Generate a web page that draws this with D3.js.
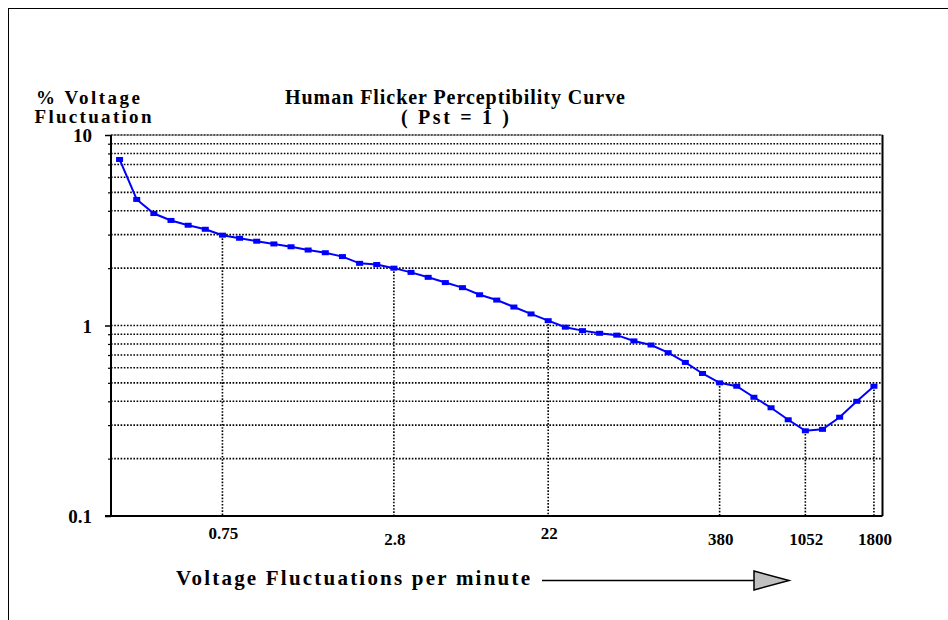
<!DOCTYPE html>
<html>
<head>
<meta charset="utf-8">
<script src="https://cdn.jsdelivr.net/npm/d3@7"></script>
<style>
  body { margin: 0; background: #fff; }
  text { font-family: "Liberation Serif", "Times New Roman", Times, serif; font-weight: bold; fill: #000; }
</style>
</head>
<body>
<div id="chart"></div>
<script>
// % voltage fluctuation for each point of the Pst = 1 curve (equally spaced categories)
const fluctuation = [
  7.44, 4.59, 3.87, 3.56, 3.36, 3.20, 2.98, 2.87, 2.77, 2.68,
  2.59, 2.49, 2.41, 2.30, 2.12, 2.09, 2.00, 1.90, 1.79, 1.68,
  1.58, 1.45, 1.36, 1.25, 1.15, 1.06, 0.98, 0.94, 0.91, 0.89,
  0.83, 0.79, 0.72, 0.64, 0.56, 0.50, 0.48, 0.42, 0.37, 0.32,
  0.28, 0.285, 0.33, 0.40, 0.48
];

// labelled categories (fluctuations per minute) and where they sit in the series
const tickIndex = [6, 16, 25, 35, 40, 44];
const tickLabels = ["0.75", "2.8", "22", "380", "1052", "1800"];
const tickLow = [false, true, false, true, true, true];

const yTicks = [0.1, 1, 10];
const yGrid = [0.2, 0.3, 0.4, 0.5, 0.6, 0.7, 0.8, 0.9, 1, 2, 3, 4, 5, 6, 7, 8, 9, 10];

const W = 948, H = 620;
const plot = { left: 111, right: 882.5, top: 135, bottom: 516 };

const svg = d3.select("#chart")
  .append("svg")
  .attr("width", W)
  .attr("height", H);

// outer frame (only left and top edges fall inside the picture)
svg.append("rect")
  .attr("x", 8.5).attr("y", 8.5)
  .attr("width", 1000).attr("height", 700)
  .attr("fill", "none")
  .attr("stroke", "#000")
  .attr("stroke-width", 1);

const x = d3.scalePoint()
  .domain(d3.range(fluctuation.length))
  .range([plot.left, plot.right])
  .padding(0.5);

const y = d3.scaleLog()
  .domain([0.1, 10])
  .range([plot.bottom, plot.top]);

// horizontal dotted grid
svg.append("g")
  .selectAll("line")
  .data(yGrid)
  .join("line")
  .attr("x1", plot.left)
  .attr("x2", plot.right)
  .attr("y1", d => y(d))
  .attr("y2", d => y(d))
  .attr("stroke", "#000")
  .attr("stroke-width", 1.6)
  .attr("stroke-dasharray", "1.6,1.6");

// plot frame top and right
svg.append("line")
  .attr("x1", plot.left).attr("x2", plot.right)
  .attr("y1", plot.top).attr("y2", plot.top)
  .attr("stroke", "#666").attr("stroke-width", 1);
svg.append("line")
  .attr("x1", plot.right).attr("x2", plot.right)
  .attr("y1", plot.top).attr("y2", plot.bottom)
  .attr("stroke", "#000").attr("stroke-width", 2);

// drop lines from labelled points to the axis
svg.append("g")
  .selectAll("line")
  .data(tickIndex)
  .join("line")
  .attr("x1", d => x(d))
  .attr("x2", d => x(d))
  .attr("y1", d => y(fluctuation[d]))
  .attr("y2", plot.bottom)
  .attr("stroke", "#000")
  .attr("stroke-width", 1.6)
  .attr("stroke-dasharray", "1.6,1.6");

// y axis with major and minor ticks
const yAxis = svg.append("g")
  .attr("transform", `translate(${plot.left},0)`)
  .call(d3.axisLeft(y).tickValues(yTicks).tickSize(6).tickFormat(""));
yAxis.select(".domain").attr("stroke-width", 2).attr("d", `M0,${plot.top}V${plot.bottom}`);
yAxis.selectAll(".tick line").attr("stroke-width", 1.5);
svg.append("g")
  .attr("transform", `translate(${plot.left},0)`)
  .call(d3.axisLeft(y).tickValues(yGrid.filter(d => !yTicks.includes(d))).tickSize(3).tickFormat(""))
  .call(g => g.select(".domain").remove())
  .selectAll(".tick line").attr("stroke-width", 1.2);

svg.append("g")
  .selectAll("text")
  .data(yTicks)
  .join("text")
  .attr("x", 92)
  .attr("y", d => y(d) + 7)
  .attr("text-anchor", "end")
  .style("font-size", "19px")
  .text(d => d);

// x axis line
svg.append("line")
  .attr("x1", plot.left - 6).attr("x2", plot.right)
  .attr("y1", plot.bottom).attr("y2", plot.bottom)
  .attr("stroke", "#000").attr("stroke-width", 2);

svg.append("g")
  .selectAll("text")
  .data(tickIndex)
  .join("text")
  .attr("x", d => x(d) + 1)
  .attr("y", (d, i) => tickLow[i] ? 545 : 539)
  .attr("text-anchor", "middle")
  .style("font-size", "17px")
  .text((d, i) => tickLabels[i]);

// the curve
const line = d3.line()
  .x((d, i) => x(i))
  .y(d => y(d));

svg.append("path")
  .datum(fluctuation)
  .attr("fill", "none")
  .attr("stroke", "#0000ff")
  .attr("stroke-width", 2)
  .attr("d", line);

svg.append("g")
  .selectAll("rect")
  .data(fluctuation)
  .join("rect")
  .attr("x", (d, i) => x(i) - 3.5)
  .attr("y", d => y(d) - 2.5)
  .attr("width", 7)
  .attr("height", 5)
  .attr("fill", "#0000ff");

// titles
svg.append("text")
  .attr("x", 455).attr("y", 104)
  .attr("text-anchor", "middle")
  .attr("textLength", 340).attr("lengthAdjust", "spacing")
  .style("font-size", "20px")
  .text("Human Flicker Perceptibility Curve");
svg.append("text")
  .attr("x", 455).attr("y", 124)
  .attr("text-anchor", "middle")
  .attr("textLength", 108).attr("lengthAdjust", "spacing")
  .style("font-size", "20px")
  .text("( Pst = 1 )");

svg.append("text")
  .attr("x", 88).attr("y", 104)
  .attr("text-anchor", "middle")
  .attr("textLength", 104).attr("lengthAdjust", "spacing")
  .style("font-size", "19px")
  .text("% Voltage");
svg.append("text")
  .attr("x", 93).attr("y", 123)
  .attr("text-anchor", "middle")
  .attr("textLength", 117).attr("lengthAdjust", "spacing")
  .style("font-size", "19px")
  .text("Fluctuation");

svg.append("text")
  .attr("x", 176).attr("y", 585)
  .attr("textLength", 354).attr("lengthAdjust", "spacing")
  .style("font-size", "21px")
  .text("Voltage Fluctuations per minute");

// arrow
svg.append("line")
  .attr("x1", 542).attr("x2", 754)
  .attr("y1", 580.5).attr("y2", 580.5)
  .attr("stroke", "#000").attr("stroke-width", 1.5);
svg.append("path")
  .attr("d", "M754,571L789,580.5L754,590Z")
  .attr("fill", "#c0c0c0")
  .attr("stroke", "#000")
  .attr("stroke-width", 1.5);
</script>
</body>
</html>
